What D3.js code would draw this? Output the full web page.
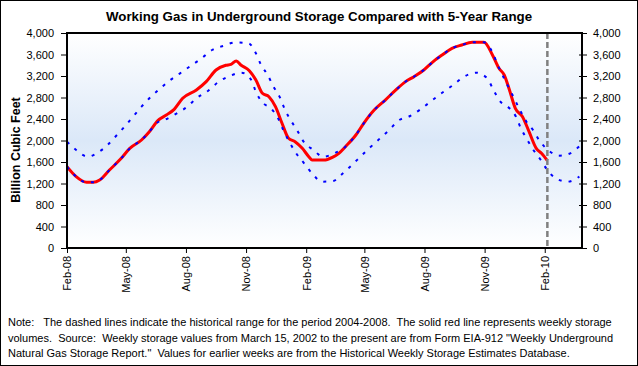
<!DOCTYPE html>
<html><head><meta charset="utf-8">
<script src="https://cdn.jsdelivr.net/npm/d3@7"></script>
<style>
body{margin:0;background:#fff}
svg{display:block}
text{font-family:"Liberation Sans",Arial,sans-serif;fill:#000}
</style>
</head><body>
<svg id="c" width="638" height="366"></svg>
<script>
const chartTitle = "Working Gas in Underground Storage Compared with 5-Year Range";
const yAxisTitle = "Billion Cubic Feet";
const yTicks = [0,400,800,1200,1600,2000,2400,2800,3200,3600,4000];
const xTicks = ["2008-02-01","2008-05-01","2008-08-01","2008-11-01","2009-02-01","2009-05-01","2009-08-01","2009-11-01","2010-02-01"];
const currentWeek = "2010-02-05";
const noteLines = [
  "Note:   The dashed lines indicate the historical range for the period 2004-2008.  The solid red line represents weekly storage",
  "volumes.  Source:  Weekly storage values from March 15, 2002 to the present are from Form EIA-912 \"Weekly Underground",
  "Natural Gas Storage Report.\"  Values for earlier weeks are from the Historical Weekly Storage Estimates Database."
];

// weekly storage (Bcf)
const storage = [
["2008-02-01",1513],["2008-02-15",1327],["2008-03-02",1222],["2008-03-12",1222],["2008-03-22",1265],["2008-04-06",1451],["2008-04-24",1668],["2008-05-07",1854],["2008-05-25",2009],["2008-06-06",2164],["2008-06-19",2369],["2008-07-02",2474],["2008-07-14",2580],["2008-07-27",2785],["2008-08-17",2940],["2008-09-01",3095],["2008-09-16",3312],["2008-10-01",3399],["2008-10-09",3417],["2008-10-17",3479],["2008-10-24",3405],["2008-11-06",3299],["2008-11-16",3126],["2008-11-26",2878],["2008-12-06",2815],["2008-12-16",2629],["2008-12-26",2320],["2009-01-05",2041],["2009-01-15",1978],["2009-01-26",1854],["2009-02-05",1699],["2009-02-10",1637],["2009-02-28",1637],["2009-03-13",1687],["2009-03-23",1762],["2009-04-02",1885],["2009-04-18",2102],["2009-04-30",2320],["2009-05-16",2567],["2009-06-02",2753],["2009-06-17",2927],["2009-07-03",3095],["2009-07-16",3188],["2009-07-31",3312],["2009-08-13",3455],["2009-08-28",3591],["2009-09-12",3715],["2009-09-27",3777],["2009-10-13",3826],["2009-10-31",3826],["2009-11-13",3591],["2009-11-23",3343],["2009-12-01",3219],["2009-12-09",2940],["2009-12-18",2599],["2009-12-29",2443],["2010-01-08",2164],["2010-01-19",1854],["2010-01-27",1762],["2010-02-05",1625]
];
// 5-year maximum
const rangeMax = [
["2008-02-01",1978],["2008-02-15",1823],["2008-03-04",1699],["2008-03-19",1774],["2008-04-03",1916],["2008-04-16",2084],["2008-04-29",2257],["2008-05-12",2443],["2008-05-25",2629],["2008-06-06",2785],["2008-06-21",2952],["2008-07-06",3107],["2008-07-23",3250],["2008-08-08",3386],["2008-08-25",3529],["2008-09-10",3684],["2008-09-28",3764],["2008-10-16",3826],["2008-11-05",3807],["2008-11-16",3622],["2008-11-24",3405],["2008-12-04",3219],["2008-12-13",3002],["2008-12-23",2797],["2008-12-30",2586],["2009-01-08",2381],["2009-01-18",2195],["2009-01-28",1978],["2009-02-12",1823],["2009-02-27",1699],["2009-03-16",1762],["2009-04-02",1885],["2009-04-18",2102],["2009-04-30",2320],["2009-05-16",2567],["2009-06-02",2753],["2009-06-17",2927],["2009-07-03",3095],["2009-07-16",3188],["2009-07-31",3312],["2009-08-13",3455],["2009-08-28",3591],["2009-09-12",3715],["2009-09-27",3777],["2009-10-13",3826],["2009-10-31",3826],["2009-11-13",3640],["2009-11-21",3405],["2009-12-02",3126],["2009-12-15",2815],["2009-12-25",2567],["2010-01-04",2350],["2010-01-14",2195],["2010-01-25",1978],["2010-02-06",1823],["2010-02-24",1718],["2010-03-12",1762],["2010-03-28",1916]
];
// 5-year minimum
const rangeMin = [
["2008-02-01",1513],["2008-02-15",1327],["2008-03-02",1222],["2008-03-12",1222],["2008-03-22",1265],["2008-04-06",1451],["2008-04-24",1668],["2008-05-07",1854],["2008-05-25",2009],["2008-06-06",2164],["2008-06-19",2340],["2008-07-01",2394],["2008-07-18",2505],["2008-08-03",2629],["2008-08-17",2785],["2008-09-04",2927],["2008-09-19",3083],["2008-10-07",3200],["2008-10-25",3262],["2008-11-09",3126],["2008-11-16",2908],["2008-11-25",2722],["2008-12-10",2586],["2008-12-20",2412],["2008-12-28",2195],["2009-01-06",1978],["2009-01-15",1792],["2009-01-28",1587],["2009-02-10",1389],["2009-02-25",1234],["2009-03-14",1246],["2009-03-28",1377],["2009-04-12",1544],["2009-04-26",1712],["2009-05-10",1873],["2009-05-25",2041],["2009-06-08",2195],["2009-06-22",2369],["2009-07-10",2456],["2009-07-26",2580],["2009-08-12",2741],["2009-08-27",2878],["2009-09-14",3033],["2009-09-29",3176],["2009-10-19",3262],["2009-11-05",3157],["2009-11-14",2952],["2009-11-24",2741],["2009-12-09",2599],["2009-12-19",2443],["2009-12-26",2238],["2010-01-04",2041],["2010-01-13",1854],["2010-01-26",1637],["2010-02-05",1451],["2010-02-18",1296],["2010-03-08",1234],["2010-03-26",1327]
];

const parse = d3.utcParse("%Y-%m-%d");
const toPts = arr => arr.map(([d,v]) => ({date: parse(d), value: v}));

const svg = d3.select("#c");
const W = 638, H = 366;
const P = {left: 67, right: 582, top: 33, bottom: 248};

const x = d3.scaleUtc().domain([parse("2008-02-01"), parse("2010-03-30")]).range([P.left, P.right]);
const y = d3.scaleLinear().domain([0, 4000]).range([P.bottom, P.top]);

// outer frame
svg.append("rect").attr("x",0.5).attr("y",0.5).attr("width",W-1).attr("height",H-1)
  .attr("fill","#fff").attr("stroke","#000").attr("stroke-width",1);

// gradient background
const defs = svg.append("defs");
const g = defs.append("linearGradient").attr("id","bg").attr("x1",0).attr("y1",0).attr("x2",0).attr("y2",1);
[[0,"#ffffff"],[0.5,"#dbe8f8"],[1,"#ffffff"]].forEach(([o,c]) => g.append("stop").attr("offset",o).attr("stop-color",c));
defs.append("clipPath").attr("id","clip").append("rect")
  .attr("x",P.left).attr("y",P.top).attr("width",P.right-P.left).attr("height",P.bottom-P.top);

svg.append("rect").attr("x",P.left).attr("y",P.top).attr("width",P.right-P.left).attr("height",P.bottom-P.top)
  .attr("fill","url(#bg)");

// lines
const line = d3.line().x(d => x(d.date)).y(d => y(d.value)).curve(d3.curveMonotoneX);
const plot = svg.append("g").attr("clip-path","url(#clip)");
plot.append("path").datum(toPts(storage)).attr("d",line)
  .attr("fill","none").attr("stroke","#ff0000").attr("stroke-width",3).attr("stroke-linejoin","round");
[rangeMax, rangeMin].forEach(s => {
  plot.append("path").datum(toPts(s)).attr("d",line)
    .attr("fill","none").attr("stroke","#0000ff").attr("stroke-width",2).attr("stroke-dasharray","3,7");
});
plot.append("line").attr("x1",x(parse(currentWeek))).attr("x2",x(parse(currentWeek)))
  .attr("y1",P.top).attr("y2",P.bottom)
  .attr("stroke","#808080").attr("stroke-width",2.5).attr("stroke-dasharray","6,3");

// plot border
svg.append("rect").attr("x",P.left).attr("y",P.top).attr("width",P.right-P.left).attr("height",P.bottom-P.top)
  .attr("fill","none").attr("stroke","#000").attr("stroke-width",2);

// axes
const fmt = d3.format(",");
const yl = svg.append("g").attr("transform",`translate(${P.left},0)`)
  .call(d3.axisLeft(y).tickValues(yTicks).tickFormat(fmt).tickSize(6).tickPadding(7));
const yr = svg.append("g").attr("transform",`translate(${P.right},0)`)
  .call(d3.axisRight(y).tickValues(yTicks).tickFormat(fmt).tickSize(5).tickPadding(6));
yr.selectAll(".tick line").attr("x1",-3);
const xa = svg.append("g").attr("transform",`translate(0,${P.bottom})`)
  .call(d3.axisBottom(x).tickValues(xTicks.map(parse)).tickFormat(d3.utcFormat("%b-%y")).tickSize(5));
xa.selectAll(".tick text").attr("transform","rotate(-90)").attr("x",-8).attr("y",0).attr("dy","0.35em")
  .style("text-anchor","end");
[yl,yr,xa].forEach(a => {
  a.select(".domain").remove();
  a.selectAll(".tick line").attr("stroke","#000");
  a.selectAll(".tick text").style("font-size","11px").style("font-family","'Liberation Sans',Arial,sans-serif").attr("fill","#000");
});

// titles
svg.append("text").attr("x",319).attr("y",21).attr("text-anchor","middle")
  .style("font-size","13.3px").style("font-weight","bold").text(chartTitle);
svg.append("text").attr("transform",`translate(20,150) rotate(-90)`).attr("text-anchor","middle")
  .style("font-size","12.5px").style("font-weight","bold").text(yAxisTitle);

// note
const nt = svg.append("g");
noteLines.forEach((t,i) => {
  nt.append("text").attr("x",8).attr("y",326 + i*15.5)
    .style("font-size","11px").style("white-space","pre").text(t);
});
</script>
</body></html>
